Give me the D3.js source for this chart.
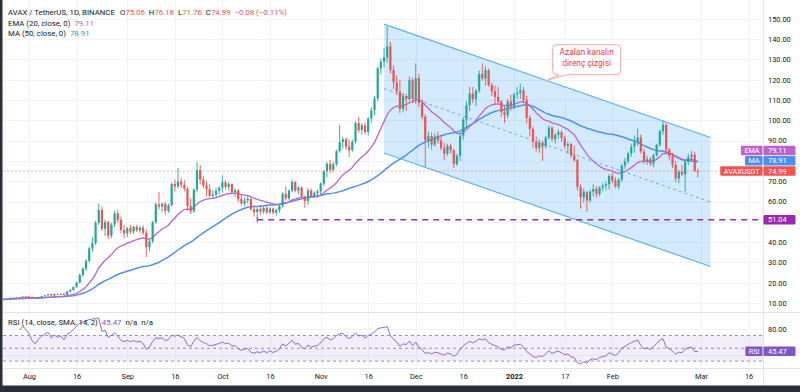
<!DOCTYPE html>
<html><head><meta charset="utf-8">
<script src="https://cdn.jsdelivr.net/npm/d3@7"></script>
<style>
body{margin:0;background:#fff;overflow:hidden}
svg{display:block}
text{font-family:Roboto,"Open Sans",sans-serif}
</style></head><body>
<svg id="c" width="800" height="392"></svg>
<script>
// ---------------- DATA ----------------
const firstDay = "2021-07-24", lastDay = "2022-02-28";
const open = [11.6,11.9,11.8,12.3,12.6,12.4,12.7,13.2,
13.1,12.9,12.5,12.3,12.9,13.4,13.8,14.3,13.7,14.5,14.2,14.6,14.1,15.6,16.4,17.9,20.1,23.8,26.9,30.8,36.9,39.5,49.6,55.8,46.6,49.8,43.2,48.6,54.2,51.0,46.0,
44.3,46.8,45.2,47.5,45.8,47.1,44.6,37.5,40.4,49.8,58.6,57.5,58.8,55.4,58.2,68.6,67.4,69.8,68.1,66.3,57.8,55.2,65.9,75.5,70.8,67.9,66.0,62.8,63.5,65.2,
66.8,69.5,67.2,68.6,64.6,65.5,61.2,59.0,60.5,61.3,56.2,54.8,56.3,55.0,56.8,54.6,56.5,54.5,55.8,57.9,63.8,61.5,65.3,69.6,65.4,66.9,62.3,60.3,65.5,62.8,64.2,
65.0,68.8,74.9,78.6,75.6,78.4,84.8,89.3,90.6,87.0,85.3,89.5,98.6,95.2,97.5,94.2,100.8,104.9,110.8,125.6,128.9,131.0,136.4,124.8,118.7,114.2,105.6,111.9,110.4,119.8,
110.6,120.8,108.5,101.8,90.2,92.3,88.0,91.9,90.1,86.4,83.6,87.4,85.2,78.4,82.5,92.4,100.3,107.4,113.2,110.4,114.6,122.8,120.6,124.7,117.4,114.3,111.5,109.2,104.0,102.5,109.3,
106.8,112.8,113.6,114.8,109.9,101.2,95.8,89.4,86.3,88.9,87.2,91.5,96.4,90.8,92.9,94.2,91.3,87.4,88.3,82.6,80.4,67.3,62.1,64.8,60.5,64.9,66.2,63.8,66.9,67.8,68.5,
72.6,70.3,67.4,70.8,77.6,79.8,83.7,86.9,89.2,91.6,84.6,79.9,80.8,78.6,82.8,87.9,94.6,97.8,85.6,82.4,78.1,71.3,74.6,73.4,79.6,81.9,83.0,75.06];
const high = [12.2,12.1,12.9,12.7,13.0,12.9,13.3,13.6,
13.5,13.2,12.8,13.0,13.6,14.0,14.6,14.5,14.6,14.8,14.9,14.8,15.8,16.8,18.2,20.5,24.5,27.5,31.5,37.8,42.5,50.5,59.0,57.5,51.0,50.5,49.5,55.5,56.0,52.5,48.5,
47.5,48.5,48.0,48.6,47.8,48.2,46.0,41.5,50.5,59.5,64.7,59.5,59.8,59.0,69.5,70.8,76.5,71.5,70.5,67.0,61.5,66.5,79.4,78.0,72.5,70.0,68.5,65.5,67.0,67.5,
73.0,70.5,69.8,69.0,66.5,66.0,63.5,62.0,62.5,62.0,58.0,57.0,57.8,57.5,57.9,57.2,57.0,56.5,58.5,64.5,67.5,66.0,70.8,70.0,67.5,67.5,63.0,66.5,66.5,65.0,66.0,
69.5,75.5,79.5,80.5,79.5,85.5,97.7,92.0,91.5,90.5,90.5,99.5,101.6,98.5,99.0,101.5,106.5,112.0,126.5,130.5,135.5,146.22,138.5,127.0,122.0,120.0,113.5,113.0,121.5,121.0,
128.0,123.0,110.5,103.0,94.5,94.0,93.5,94.5,92.5,89.0,88.5,88.5,86.0,83.5,93.5,101.5,109.5,116.5,116.5,115.5,124.5,128.0,126.5,125.5,118.5,117.0,116.5,110.0,107.0,110.5,112.5,
113.5,116.5,118.0,116.5,112.0,102.5,97.0,92.0,90.5,90.0,92.5,97.5,97.0,93.5,95.5,95.0,92.5,89.5,89.0,87.5,81.0,68.5,66.5,65.0,66.0,68.5,67.5,67.5,69.0,70.0,73.5,
74.0,72.0,71.5,78.5,81.5,84.5,88.5,92.5,96.0,93.0,86.0,82.5,82.0,83.5,88.5,95.5,100.0,98.5,86.5,84.0,80.0,75.5,78.0,80.5,83.5,85.0,84.5,76.18];
const low = [11.3,11.4,11.7,11.6,12.1,12.2,12.2,12.8,
12.6,12.3,12.0,12.1,12.6,13.1,13.6,13.4,13.5,13.9,14.0,13.8,14.0,15.2,16.0,17.5,19.6,23.0,25.8,30.0,35.0,38.6,48.5,45.5,43.0,41.5,42.0,47.5,49.5,44.5,42.0,
42.5,44.0,43.8,45.0,44.5,43.5,32.6,35.5,39.5,49.0,56.0,54.8,53.5,54.5,57.5,65.0,66.5,66.5,65.0,55.5,53.8,54.5,64.5,68.5,66.5,62.5,62.0,61.5,62.0,63.5,
64.5,66.0,65.5,63.5,62.0,59.5,58.0,57.8,59.0,55.5,52.5,51.04,53.5,54.0,53.8,54.0,53.6,53.0,54.5,57.0,60.5,60.8,64.5,64.5,63.5,61.5,57.0,58.5,62.0,62.0,61.8,
63.5,67.5,72.0,74.0,74.5,77.5,84.0,86.0,85.5,82.0,84.5,88.5,94.0,92.8,93.0,92.5,98.5,102.5,109.5,122.5,126.0,128.5,123.0,115.5,112.5,103.5,104.0,104.5,109.5,108.5,
108.0,106.5,100.5,77.0,86.5,85.5,87.0,88.5,85.0,80.5,82.5,83.5,76.5,77.5,80.0,90.5,96.5,104.5,108.5,107.0,113.5,119.5,117.0,116.5,112.0,107.5,108.5,101.5,98.6,101.0,104.5,
105.5,110.5,110.5,108.5,98.5,92.0,86.5,84.5,84.0,80.0,86.0,90.5,89.5,88.5,91.0,89.5,86.0,83.5,81.5,79.5,65.5,56.5,59.5,55.0,59.5,62.5,62.0,62.5,65.0,65.5,66.0,
69.0,66.5,66.0,69.5,76.0,78.5,82.0,84.0,87.5,83.5,78.5,78.0,77.5,77.0,82.0,87.0,93.0,84.0,80.5,76.5,69.5,69.0,72.5,64.7,78.0,80.5,74.5,71.76];
const close = [11.9,11.8,12.3,12.6,12.4,12.7,13.2,13.1,
12.9,12.5,12.3,12.9,13.4,13.8,14.3,13.7,14.5,14.2,14.6,14.1,15.6,16.4,17.9,20.1,23.8,26.9,30.8,36.9,39.5,49.6,55.8,46.6,49.8,43.2,48.6,54.2,51.0,46.0,44.3,
46.8,45.2,47.5,45.8,47.1,44.6,37.5,40.4,49.8,58.6,57.5,58.8,55.4,58.2,68.6,67.4,69.8,68.1,66.3,57.8,55.2,65.9,75.5,70.8,67.9,66.0,62.8,63.5,65.2,66.8,
69.5,67.2,68.6,64.6,65.5,61.2,59.0,60.5,61.3,56.2,54.8,56.3,55.0,56.8,54.6,56.5,54.5,55.8,57.9,63.8,61.5,65.3,69.6,65.4,66.9,62.3,60.3,65.5,62.8,64.2,65.0,
68.8,74.9,78.6,75.6,78.4,84.8,89.3,90.6,87.0,85.3,89.5,98.6,95.2,97.5,94.2,100.8,104.9,110.8,125.6,128.9,131.0,136.4,124.8,118.7,114.2,105.6,111.9,110.4,119.8,110.6,
120.8,108.5,101.8,90.2,92.3,88.0,91.9,90.1,86.4,83.6,87.4,85.2,78.4,82.5,92.4,100.3,107.4,113.2,110.4,114.6,122.8,120.6,124.7,117.4,114.3,111.5,109.2,104.0,102.5,109.3,106.8,
112.8,113.6,114.8,109.9,101.2,95.8,89.4,86.3,88.9,87.2,91.5,96.4,90.8,92.9,94.2,91.3,87.4,88.3,82.6,80.4,67.3,62.1,64.8,60.5,64.9,66.2,63.8,66.9,67.8,68.5,72.6,
70.3,67.4,70.8,77.6,79.8,83.7,86.9,89.2,91.6,84.6,79.9,80.8,78.6,82.8,87.9,94.6,97.8,85.6,82.4,78.1,71.3,74.6,73.4,79.6,81.9,83.0,75.07,74.99];

const priceTicks = [10,20,30,40,50,60,70,80,90,100,110,120,130,140,150];
const rsiTicks = [80,40];
const dateTicks = ["2021-08-01","2021-08-16","2021-09-01","2021-09-16","2021-10-01","2021-10-16","2021-11-01","2021-11-16","2021-12-01","2021-12-16","2022-01-01","2022-01-17","2022-02-01","2022-03-01","2022-03-16"];
const dateLabels = ["Aug","16","Sep","16","Oct","16","Nov","16","Dec","16","2022","17","Feb","Mar","16"];

const headerOHLC = [["O","75.06"],["H","76.18"],["L","71.76"],["C","74.99"]];
const headerChange = "\u22120.08 (\u22120.11%)";
const emaValue = "79.11", maValue = "78.91", lastValue = "74.99", rsiValue = "45.47";
const supportLevel = 51.04, supportStart = "2021-10-12";
// parallel channel anchors: [date, upper price, lower price]
const channelStart = ["2021-11-21", 147.4, 83.9];
const channelEnd = ["2022-03-04", 91.5, 28.0];
const calloutAnchor = ["2022-01-11", 119.5];
const calloutLines = ["Azalan kanal\u0131n", "diren\u00e7 \u00e7izgisi"];

// ---------------- SETUP ----------------
const P = s => new Date(s + "T00:00:00Z");
const dates = d3.utcDay.range(P(firstDay), d3.utcDay.offset(P(lastDay), 1));
const data = dates.map((d, i) => ({d, o: open[i], h: high[i], l: low[i], c: close[i]}));

const svg = d3.select("#c");
const W = 800, H = 392;
const left = 3, axisX = 763, paneBottom = 312, timeAxisY = 368;

const x = d3.scaleUtc().domain([P("2021-08-01"), P("2022-01-01")]).range([29, 514]);
const y = d3.scaleLinear().domain([10, 150]).range([303, 18.8]);
const yr = d3.scaleLinear().domain([30, 70]).range([361.1, 335.5]);

// indicators
function ema(v, n) { const a = 2 / (n + 1); const o = []; v.forEach((c, i) => o.push(i ? a * c + (1 - a) * o[i - 1] : c)); return o; }
function sma(v, n) { return v.map((c, i) => d3.mean(v.slice(Math.max(0, i - n + 1), i + 1))); }
function rsi(v, n) {
  const o = [NaN]; let ag = 0, al = 0;
  for (let i = 1; i < v.length; i++) {
    const ch = v[i] - v[i - 1], g = Math.max(ch, 0), l = Math.max(-ch, 0);
    const k = Math.min(i, n);
    ag = (ag * (k - 1) + g) / k; al = (al * (k - 1) + l) / k;
    o.push(al === 0 ? 100 : 100 - 100 / (1 + ag / al));
  }
  return o;
}
const ema20 = ema(close, 20), ma50 = sma(close, 50), rsi14 = rsi(close, 14);
const rsiWarmup = 5;

const defs = svg.append("defs");
defs.append("clipPath").attr("id", "mainClip").append("rect").attr("x", left).attr("y", 0).attr("width", axisX - left).attr("height", paneBottom);
defs.append("clipPath").attr("id", "rsiClip").append("rect").attr("x", left).attr("y", paneBottom).attr("width", axisX - left).attr("height", timeAxisY - paneBottom);

svg.append("rect").attr("width", W).attr("height", H).attr("fill", "#fff");

// grid
const grid = svg.append("g").attr("stroke", "#f0f3fa").attr("stroke-width", 1);
grid.selectAll("line.h").data(priceTicks).join("line").attr("x1", left).attr("x2", axisX)
  .attr("y1", d => Math.round(y(d)) + 0.5).attr("y2", d => Math.round(y(d)) + 0.5);
grid.selectAll("line.v").data(dateTicks).join("line")
  .attr("x1", d => Math.round(x(P(d))) + 0.5).attr("x2", d => Math.round(x(P(d))) + 0.5)
  .attr("y1", 0).attr("y2", timeAxisY);
grid.selectAll("line.r").data(rsiTicks).join("line").attr("x1", left).attr("x2", axisX)
  .attr("y1", d => Math.round(yr(d)) + 0.5).attr("y2", d => Math.round(yr(d)) + 0.5);

// ---------------- MAIN PANE ----------------
const main = svg.append("g").attr("clip-path", "url(#mainClip)");

// channel
const cx0 = x(P(channelStart[0])), cx1 = x(P(channelEnd[0]));
const chPts = [[cx0, y(channelStart[1])], [cx1, y(channelEnd[1])], [cx1, y(channelEnd[2])], [cx0, y(channelStart[2])]];
main.append("path").attr("d", "M" + chPts.join("L") + "Z").attr("fill", "rgba(33,150,243,0.2)").attr("stroke", "none");
main.append("line").attr("x1", cx0).attr("y1", y(channelStart[1])).attr("x2", cx1).attr("y2", y(channelEnd[1])).attr("stroke", "#5eb1f3").attr("stroke-width", 1.2);
main.append("line").attr("x1", cx0).attr("y1", y(channelStart[2])).attr("x2", cx1).attr("y2", y(channelEnd[2])).attr("stroke", "#5eb1f3").attr("stroke-width", 1.2);
main.append("line").attr("x1", cx0).attr("y1", y((channelStart[1] + channelStart[2]) / 2)).attr("x2", cx1).attr("y2", y((channelEnd[1] + channelEnd[2]) / 2))
  .attr("stroke", "#5eb1f3").attr("stroke-width", 1).attr("stroke-dasharray", "3,3");

// support dashed line
const sx = x(P(supportStart));
main.append("line").attr("x1", sx).attr("x2", axisX).attr("y1", y(supportLevel)).attr("y2", y(supportLevel))
  .attr("stroke", "#9c27b0").attr("stroke-width", 1.5).attr("stroke-dasharray", "6,5");
main.append("line").attr("x1", sx).attr("x2", sx).attr("y1", y(supportLevel) - 2.5).attr("y2", y(supportLevel) + 2.5).attr("stroke", "#9c27b0").attr("stroke-width", 1);

// last price line
main.append("line").attr("x1", left).attr("x2", axisX).attr("y1", y(+lastValue)).attr("y2", y(+lastValue))
  .attr("stroke", "#ef5350").attr("stroke-opacity", 0.45).attr("stroke-width", 1).attr("stroke-dasharray", "2,2");

// MA lines
const lineGen = arr => d3.line().x((d, i) => x(dates[i])).y(d => y(d))(arr);
main.append("path").attr("d", lineGen(ma50)).attr("fill", "none").attr("stroke", "#4e8ff5").attr("stroke-width", 1.5);
main.append("path").attr("d", lineGen(ema20)).attr("fill", "none").attr("stroke", "#bd64cc").attr("stroke-width", 1.3);

// candles
const up = "#26a69a", down = "#ef5350";
const cg = main.append("g");
cg.selectAll("line").data(data).join("line")
  .attr("x1", d => x(d.d)).attr("x2", d => x(d.d)).attr("y1", d => y(d.h)).attr("y2", d => y(d.l))
  .attr("stroke", d => d.c >= d.o ? up : down).attr("stroke-width", 0.9);
cg.selectAll("rect").data(data).join("rect")
  .attr("x", d => x(d.d) - 1.1).attr("width", 2.2)
  .attr("y", d => y(Math.max(d.o, d.c))).attr("height", d => Math.max(0.8, Math.abs(y(d.o) - y(d.c))))
  .attr("fill", d => d.c >= d.o ? up : down);

// callout
const ax = x(P(calloutAnchor[0])), ay = y(calloutAnchor[1]);
const bx = ax + 7, by = ay - 36, bw = 68, bh = 30;
const co = svg.append("g");
co.append("path").attr("d", `M${bx + 4},${by} H${bx + bw - 4} Q${bx + bw},${by} ${bx + bw},${by + 4} V${by + bh - 4} Q${bx + bw},${by + bh} ${bx + bw - 4},${by + bh} H${bx + 14} L${ax},${ay} L${bx + 6},${by + bh} H${bx + 4} Q${bx},${by + bh} ${bx},${by + bh - 4} V${by + 4} Q${bx},${by} ${bx + 4},${by}Z`)
  .attr("fill", "#fff").attr("stroke", "#f7a8a8").attr("stroke-width", 1);
co.selectAll("text").data(calloutLines).join("text")
  .attr("x", bx + bw / 2).attr("y", (d, i) => by + 10.5 + i * 10.5).attr("text-anchor", "middle")
  .attr("font-size", 8.4).attr("fill", "#f23645").text(d => d);

// ---------------- RSI PANE ----------------
const rp = svg.append("g").attr("clip-path", "url(#rsiClip)");
rp.append("rect").attr("x", left).attr("width", axisX - left).attr("y", yr(70)).attr("height", yr(30) - yr(70)).attr("fill", "rgba(126,87,194,0.1)");
rp.selectAll("line.b").data([70, 50, 30]).join("line").attr("x1", left).attr("x2", axisX)
  .attr("y1", d => yr(d)).attr("y2", d => yr(d)).attr("stroke", "#9598a1").attr("stroke-width", 1).attr("stroke-dasharray", "3,3");
rp.append("path").attr("d", d3.line().defined((d, i) => i >= rsiWarmup && !isNaN(d)).x((d, i) => x(dates[i])).y(d => yr(d))(rsi14))
  .attr("fill", "none").attr("stroke", "#8c6bd1").attr("stroke-width", 1);

// ---------------- SEPARATORS / AXES ----------------
svg.append("line").attr("x1", 0).attr("x2", W).attr("y1", paneBottom + 0.5).attr("y2", paneBottom + 0.5).attr("stroke", "#e0e3eb");
svg.append("line").attr("x1", 0).attr("x2", W).attr("y1", timeAxisY + 0.5).attr("y2", timeAxisY + 0.5).attr("stroke", "#e0e3eb");
svg.append("line").attr("x1", axisX + 0.5).attr("x2", axisX + 0.5).attr("y1", 0).attr("y2", H).attr("stroke", "#e0e3eb");

// price labels on axis (positions first, so covered tick labels can be hidden)
const lastY = y(+lastValue);
const labelBoxes = [
  {cy: lastY, name: "AVAXUSDT", value: lastValue, color: "#f05350"},
  {cy: lastY - 10.3, name: "MA", value: maValue, color: "#4e8ff5"},
  {cy: lastY - 20.6, name: "EMA", value: emaValue, color: "#bd64cc"},
  {cy: y(supportLevel), name: null, value: d3.format(".2f")(supportLevel), color: "#9c27b0"},
  {cy: yr(+rsiValue), name: "RSI", value: rsiValue, color: "#7e57c2"}
];
const covered = v => labelBoxes.some(b => Math.abs(b.cy - v) < 8.5);

const fmt = d3.format(".2f");
const yAxis = svg.append("g").attr("transform", `translate(${axisX},0)`)
  .call(d3.axisRight(y).tickValues(priceTicks.filter(t => !covered(y(t)))).tickFormat(fmt).tickSize(0).tickPadding(5));
yAxis.select(".domain").remove();
yAxis.selectAll("text").attr("font-size", 7.4).attr("fill", "#131722").attr("font-family", "Roboto");
const rAxis = svg.append("g").attr("transform", `translate(${axisX},0)`)
  .call(d3.axisRight(yr).tickValues(rsiTicks.filter(t => !covered(yr(t)))).tickFormat(fmt).tickSize(0).tickPadding(5));
rAxis.select(".domain").remove();
rAxis.selectAll("text").attr("font-size", 7.4).attr("fill", "#131722").attr("font-family", "Roboto");

const xAxis = svg.append("g").attr("transform", `translate(0,${timeAxisY})`)
  .call(d3.axisBottom(x).tickValues(dateTicks.map(P)).tickFormat((d, i) => dateLabels[i]).tickSize(0).tickPadding(6));
xAxis.select(".domain").remove();
xAxis.selectAll("text").attr("font-size", 7.4).attr("fill", "#131722").attr("font-family", "Roboto")
  .attr("font-weight", (d, i) => dateLabels[i] === "2022" ? "bold" : null);

labelBoxes.forEach(b => {
  const g = svg.append("g");
  g.append("rect").attr("x", axisX + 0.5).attr("y", b.cy - 4.8).attr("width", 32).attr("height", 9.6).attr("rx", 1).attr("fill", b.color);
  g.append("text").attr("x", axisX + 5).attr("y", b.cy).attr("dy", "0.35em").attr("font-size", 7.4).attr("fill", "#fff").text(b.value);
  if (b.name) {
    const t = g.append("text").attr("x", axisX - 3.5).attr("y", b.cy).attr("dy", "0.35em").attr("text-anchor", "end").attr("font-size", 7.2).attr("fill", "#fff").text(b.name);
    const w = t.node().getComputedTextLength();
    g.insert("rect", "text").attr("x", axisX - w - 7).attr("y", b.cy - 4.8).attr("width", w + 6.5).attr("height", 9.6).attr("rx", 1).attr("fill", b.color);
  }
});

// ---------------- HEADER TEXTS ----------------
const hdr = svg.append("g").attr("font-size", 7.8);
const t1 = hdr.append("text").attr("x", 8).attr("y", 12).attr("dy", "0.35em").attr("fill", "#131722");
t1.append("tspan").text("AVAX / TetherUS, 1D, BINANCE");
headerOHLC.forEach((p, i) => {
  t1.append("tspan").attr("dx", i ? 4 : 5).text(p[0]);
  t1.append("tspan").attr("fill", "#ef5350").text(p[1]);
});
t1.append("tspan").attr("dx", 4).attr("fill", "#ef5350").text(headerChange);
const t2 = hdr.append("text").attr("x", 8).attr("y", 23).attr("dy", "0.35em").attr("fill", "#131722");
t2.append("tspan").text("EMA (20, close, 0)");
t2.append("tspan").attr("dx", 4).attr("fill", "#bd64cc").text(emaValue);
const t3 = hdr.append("text").attr("x", 8).attr("y", 33.5).attr("dy", "0.35em").attr("fill", "#131722");
t3.append("tspan").text("MA (50, close, 0)");
t3.append("tspan").attr("dx", 4).attr("fill", "#4e8ff5").text(maValue);
const t4 = hdr.append("text").attr("x", 8).attr("y", 322).attr("dy", "0.35em").attr("fill", "#131722");
t4.append("tspan").text("RSI (14, close, SMA, 14, 2)");
t4.append("tspan").attr("dx", 4).attr("fill", "#7e57c2").text(rsiValue);
t4.append("tspan").attr("dx", 4).text("n/a");
t4.append("tspan").attr("dx", 4).text("n/a");

// outer frame
svg.append("rect").attr("x", 0).attr("y", 0).attr("width", 2.5).attr("height", H).attr("fill", "#2a2e39");
svg.append("rect").attr("x", 0).attr("y", 385.5).attr("width", W).attr("height", H - 385.5).attr("fill", "#2a2e39");
</script>
</body></html>
